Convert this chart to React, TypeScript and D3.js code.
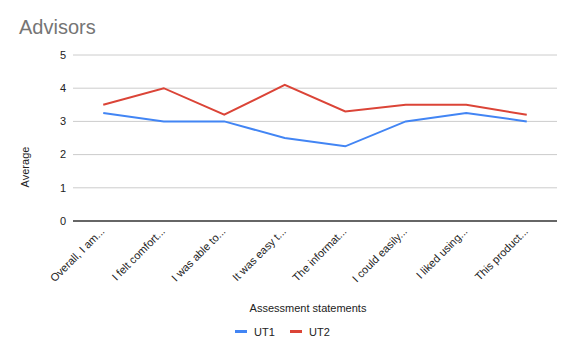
import React from "react";
import * as d3 from "d3";

const categories = [
  "Overall, I am...",
  "I felt comfort...",
  "I was able to...",
  "It was easy t...",
  "The informat...",
  "I could easily...",
  "I liked using...",
  "This product...",
];
const ut1 = [3.25, 3, 3, 2.5, 2.25, 3, 3.25, 3];
const ut2 = [3.5, 4, 3.2, 4.1, 3.3, 3.5, 3.5, 3.2];
const yTicks = [0, 1, 2, 3, 4, 5];
const seriesNames = ["UT1", "UT2"];
const colors = ["#4285f4", "#db4437"];

export default function App() {
  const W = 574, H = 355;
  const left = 73, right = 557, top = 55, bottom = 221;
  const x = d3.scaleBand<string>().domain(categories).range([left, right]);
  const y = d3.scaleLinear().domain([0, 5]).range([bottom, top]);
  const line = d3
    .line<number>()
    .x((_, i) => (x(categories[i]) as number) + x.bandwidth() / 2)
    .y((d) => y(d));
  const font = "Arial, 'Liberation Sans', sans-serif";
  return (
    <svg
      width={W}
      height={H}
      style={{ position: "absolute", left: 0, top: 0, background: "#fff" }}
      fontFamily={font}
    >
      <rect width={W} height={H} fill="#fff" />
      <text x={19} y={34} fontSize={20} fill="#757575">
        Advisors
      </text>
      {yTicks.map((t) => (
        <g key={t}>
          {t !== 0 && (
            <line x1={left} x2={right} y1={y(t)} y2={y(t)} stroke="#cccccc" strokeWidth={1} />
          )}
          <text x={66} y={y(t)} dy="0.35em" textAnchor="end" fontSize={11} fill="#222">
            {t}
          </text>
        </g>
      ))}
      <text
        transform={`translate(29,167) rotate(-90)`}
        textAnchor="middle"
        fontSize={11}
        fill="#222"
      >
        Average
      </text>
      {[ut1, ut2].map((s, k) => (
        <path key={k} d={line(s) as string} fill="none" stroke={colors[k]} strokeWidth={2} />
      ))}
      <line x1={left} x2={right} y1={bottom} y2={bottom} stroke="#333" strokeWidth={1.5} />
      {categories.map((c) => {
        const cx = (x(c) as number) + x.bandwidth() / 2;
        return (
          <text
            key={c}
            transform={`translate(${cx + 2},${bottom + 11}) rotate(-45)`}
            textAnchor="end"
            fontSize={11}
            fill="#222"
          >
            {c}
          </text>
        );
      })}
      <text x={308} y={312} textAnchor="middle" fontSize={11} fill="#222">
        Assessment statements
      </text>
      {seriesNames.map((n, i) => {
        const lx = 235 + i * 55;
        return (
          <g key={n}>
            <rect x={lx} y={330} width={12} height={3} fill={colors[i]} />
            <text x={lx + 19} y={332} dy="0.35em" fontSize={11} fill="#222">
              {n}
            </text>
          </g>
        );
      })}
    </svg>
  );
}
